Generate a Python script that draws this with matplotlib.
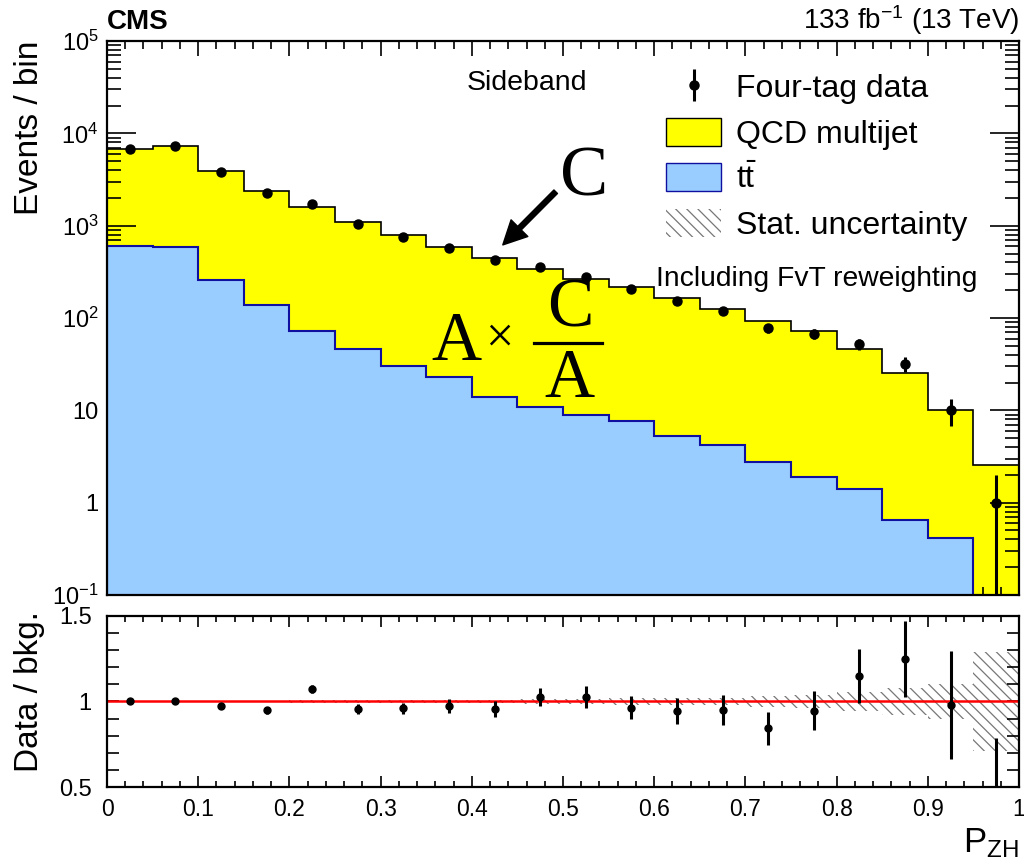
import numpy as np
import matplotlib
matplotlib.use("Agg")
import matplotlib.pyplot as plt
from matplotlib.patches import Patch
from matplotlib.lines import Line2D
from matplotlib.ticker import MultipleLocator, LogLocator, NullFormatter, FuncFormatter

plt.rcParams['font.family'] = ['Liberation Sans', 'DejaVu Sans']
plt.rcParams['mathtext.fontset'] = 'custom'
plt.rcParams['mathtext.rm'] = 'Liberation Sans'
plt.rcParams['mathtext.it'] = 'Liberation Sans:italic'
plt.rcParams['mathtext.bf'] = 'Liberation Sans:bold'
plt.rcParams['hatch.linewidth'] = 0.9

# binning in P_ZH
edges = np.linspace(0, 1, 21)
centers = 0.5 * (edges[:-1] + edges[1:])

# background stack
ttbar = [605, 591, 258, 138, 72.6, 46, 30.4, 22.7, 14.0, 10.8,
         8.9, 7.6, 5.3, 4.24, 2.73, 1.92, 1.41, 0.65, 0.41, 0]
qcd = [6155, 6700, 3642, 2232, 1517, 1049, 760, 568, 432, 333,
       259, 207, 158, 120, 89.8, 70, 44.3, 25.0, 9.8, 2.55]

# four-tag data
data = [6760, 7300, 3800, 2250, 1705, 1050, 758, 575, 426, 353,
        275, 207, 154, 118, 78, 68, 52.5, 32, 10, 1]
data_err = [82, 85, 62, 47, 41, 32, 27.5, 24, 20.6, 18.8,
            16.6, 14.4, 12.4, 10.9, 8.8, 8.2, 7.2, 5.7, 3.2, 1.0]

# relative stat. uncertainty of the background
stat_unc = [0.003, 0.003, 0.004, 0.005, 0.006, 0.008, 0.008, 0.009, 0.01, 0.015,
            0.015, 0.018, 0.018, 0.02, 0.03, 0.04, 0.055, 0.08, 0.10, 0.29]

ttbar = np.array(ttbar, dtype=float)
qcd = np.array(qcd, dtype=float)
data = np.array(data, dtype=float)
data_err = np.array(data_err, dtype=float)
stat_unc = np.array(stat_unc)
total = ttbar + qcd

yellow = '#ffff00'
blue = '#99ccff'
dark_blue = '#1010a0'

fig = plt.figure(figsize=(10.24, 8.64), dpi=100)
ax = fig.add_axes([0.1045, 0.3113, 0.8906, 0.6412])
ax2 = fig.add_axes([0.1045, 0.0891, 0.8906, 0.198])

# ---- top panel ----
floor = 1e-3
ax.stairs(total, edges, baseline=floor, fill=True, color=yellow, zorder=1)
ax.stairs(total, edges, baseline=floor, color='black', lw=1.2, zorder=2)
tt_plot = np.where(ttbar > 0, ttbar, floor)
ax.stairs(tt_plot, edges, baseline=floor, fill=True, color=blue, zorder=3)
ax.stairs(tt_plot, edges, baseline=floor, color=dark_blue, lw=1.5, zorder=4)

lo = np.minimum(data_err, data - 1e-4)
eb = ax.errorbar(centers, data, yerr=[lo, data_err], fmt='o', color='black',
                 ms=6.5, elinewidth=2.2, capsize=0, zorder=6)

ax.set_yscale('log')
ax.set_xlim(0, 1)
ax.set_ylim(0.1, 1e5)
ax.set_yticks([0.1, 1, 10, 100, 1e3, 1e4, 1e5],
              labels=[r'$10^{-1}$', '1', '10', r'$10^{2}$', r'$10^{3}$', r'$10^{4}$', r'$10^{5}$'])
ax.yaxis.set_minor_locator(LogLocator(base=10, subs=np.arange(2, 10)))
ax.yaxis.set_minor_formatter(NullFormatter())
ax.xaxis.set_major_locator(MultipleLocator(0.1))
ax.xaxis.set_minor_locator(MultipleLocator(0.02))
ax.tick_params(axis='both', which='both', direction='in', top=True, right=True, width=1.2)
ax.tick_params(axis='x', which='major', length=11, labelbottom=False)
ax.tick_params(axis='x', which='minor', length=5.5)
ax.tick_params(axis='y', which='major', length=21, labelsize=17, pad=6)
ax.tick_params(axis='y', which='minor', length=10)
for s in ax.spines.values():
    s.set_linewidth(1.6)
    s.set_zorder(10)

ax.set_ylabel('Events / bin', fontsize=24, loc='top')
ax.yaxis.set_label_coords(-0.068, 1.0)

ax.text(0, 1.0217, 'CMS', transform=ax.transAxes, fontsize=20, fontweight='bold',
        ha='left', va='baseline')
ax.text(1, 1.0217, r'133 fb$^{-1}$ (13 TeV)', transform=ax.transAxes, fontsize=20,
        ha='right', va='baseline')
ax.text(0.4605, 0.9116, 'Sideband', transform=ax.transAxes, fontsize=20.5,
        ha='center', va='baseline')
ax.text(0.602, 0.558, 'Including FvT reweighting', transform=ax.transAxes, fontsize=20.3,
        ha='left', va='baseline', zorder=7)

# method annotation
serif = ['Liberation Serif', 'DejaVu Serif']
ax.text(0.523, 0.722, 'C', transform=ax.transAxes, fontsize=52, family=serif,
        ha='center', va='baseline', zorder=7)
ax.annotate('', xy=(0.434, 0.632), xytext=(0.492, 0.728), xycoords='axes fraction',
            arrowprops=dict(facecolor='black', edgecolor='black', width=3.6,
                            headwidth=17, headlength=17, shrink=0), zorder=7)
ax.text(0.383, 0.424, 'A', transform=ax.transAxes, fontsize=50, family=serif,
        ha='center', va='baseline', zorder=7)
ax.text(0.430, 0.440, '\u00d7', transform=ax.transAxes, fontsize=36, family=serif,
        ha='center', va='baseline', zorder=7)
ax.add_line(Line2D([0.468, 0.543], [0.455, 0.455], transform=ax.transAxes,
                   color='black', lw=2.3, zorder=7))
ax.text(0.508, 0.484, 'C', transform=ax.transAxes, fontsize=50, family=serif,
        ha='center', va='baseline', zorder=7)
ax.text(0.507, 0.357, 'A', transform=ax.transAxes, fontsize=50, family=serif,
        ha='center', va='baseline', zorder=7)

hatch = '\\\\\\'
handles = [eb,
           Patch(facecolor=yellow, edgecolor='black', lw=1.0),
           Patch(facecolor=blue, edgecolor=dark_blue, lw=1.0),
           Patch(facecolor='none', edgecolor='#777777', hatch=hatch, lw=0)]
labels = ['Four-tag data', 'QCD multijet', r'$\mathrm{t\bar{t}}$', 'Stat. uncertainty']
leg = ax.legend(handles, labels, loc='upper left', bbox_to_anchor=(0.613, 0.944),
                frameon=False, fontsize=23, handlelength=1.72, handleheight=0.97,
                labelspacing=0.43, handletextpad=0.47, borderpad=0, borderaxespad=0)
leg.set_zorder(8)

# ---- ratio panel ----
ratio = data / total
ratio_err = data_err / total
ax2.stairs(1 + stat_unc, edges, baseline=1 - stat_unc, fill=True, facecolor='none',
           edgecolor='#777777', hatch=hatch, lw=0, zorder=1)
ax2.axhline(1.0, color='red', lw=1.8, zorder=2)
ax2.errorbar(centers, ratio, yerr=ratio_err, fmt='o', color='black', ms=5,
             elinewidth=2.2, capsize=0, zorder=4)

ax2.set_xlim(0, 1)
ax2.set_ylim(0.5, 1.5)
ax2.xaxis.set_major_locator(MultipleLocator(0.1))
ax2.xaxis.set_minor_locator(MultipleLocator(0.02))
ax2.xaxis.set_major_formatter(FuncFormatter(lambda v, p: '%g' % round(v, 2)))
ax2.yaxis.set_major_locator(MultipleLocator(0.5))
ax2.yaxis.set_minor_locator(MultipleLocator(0.1))
ax2.yaxis.set_major_formatter(FuncFormatter(lambda v, p: '%g' % v))
ax2.tick_params(axis='both', which='both', direction='in', top=True, right=True, width=1.2)
ax2.tick_params(axis='x', which='major', length=8, labelsize=16.5, pad=8)
ax2.tick_params(axis='x', which='minor', length=4)
ax2.tick_params(axis='y', which='both', length=8.5, labelsize=17, pad=11)
for s in ax2.spines.values():
    s.set_linewidth(1.6)
    s.set_zorder(10)

ax2.set_ylabel('Data / bkg.', fontsize=24, loc='top')
ax2.yaxis.set_label_coords(-0.068, 1.03)
ax2.set_xlabel(r'$\mathrm{P}_\mathrm{ZH}$', fontsize=25, loc='right', labelpad=4)

fig.savefig('out.png', dpi=100)
